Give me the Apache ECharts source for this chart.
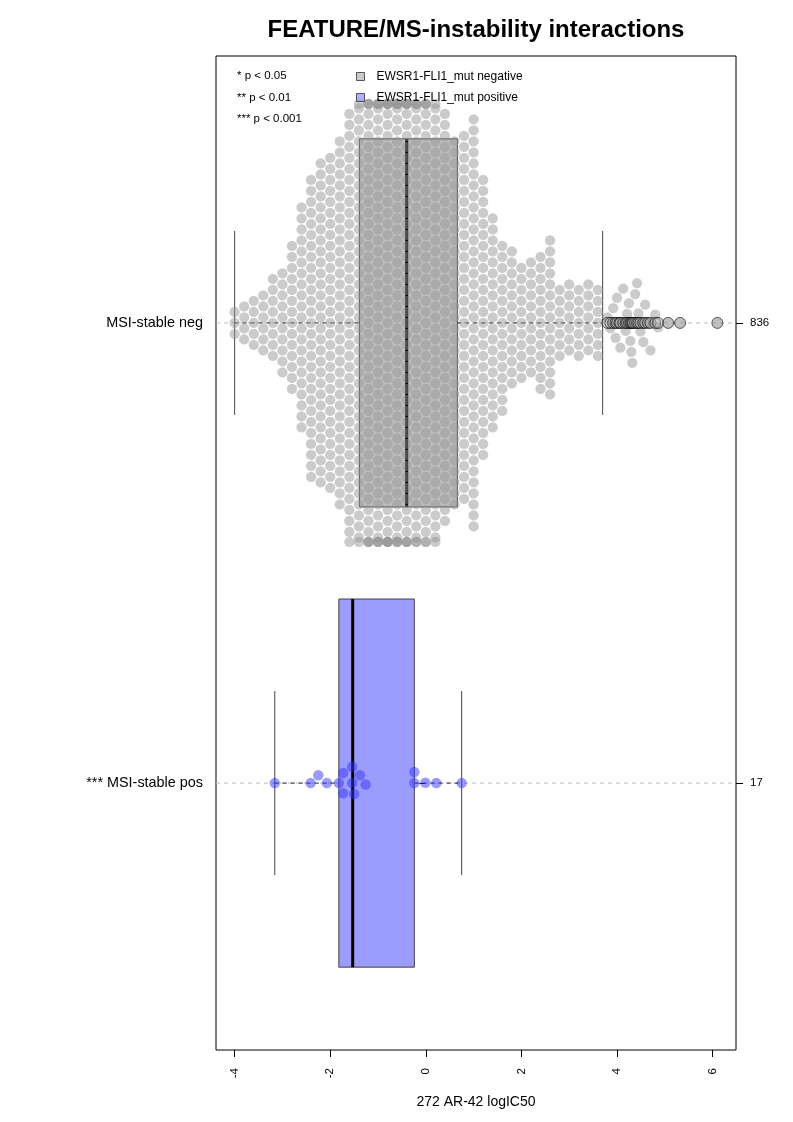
<!DOCTYPE html>
<html><head><meta charset="utf-8">
<script src="https://cdn.jsdelivr.net/npm/echarts@6/dist/echarts.min.js"></script>
<style>html,body{margin:0;padding:0;background:#fff}#c{width:793px;height:1122px}</style>
</head><body><div id="c"></div>
<script>
// ---------------- data ----------------
const groupNames = ['MSI-stable neg', '*** MSI-stable pos'];
const groupPositions = [2, 1];
const groupCounts = ['836', '17'];
const seriesNames = ['EWSR1-FLI1_mut negative', 'EWSR1-FLI1_mut positive'];
const pNotes = ['* p < 0.05', '** p < 0.01', '*** p < 0.001'];
const xTicks = [-4, -2, 0, 2, 4, 6];
const titleText = 'FEATURE/MS-instability interactions';
const xName = '272 AR-42 logIC50';

// MSI-stable neg: logIC50 values read as counts per 0.2-wide bin (bin centre)
const negBinCenters = [-4.0,-3.8,-3.6,-3.4,-3.2,-3.0,-2.8,-2.6,-2.4,-2.2,-2.0,-1.8,-1.6,-1.4,-1.2,-1.0,-0.8,-0.6,-0.4,-0.2,
  0.0,0.2,0.4,0.6,0.8,1.0,1.2,1.4,1.6,1.8,2.0,2.2,2.4,2.6,2.8,3.0,3.2,3.4,3.6];
const negBinCounts = [3,4,5,6,8,10,14,21,28,30,31,34,40,42,45,46,47,47,46,45,
  44,42,38,34,34,38,26,20,16,13,11,11,13,15,7,7,7,7,7];
// individual values beyond the upper whisker
const negHigh = [3.80,3.86,3.92,3.97,4.00,4.05,4.07,4.13,4.18,4.21,4.25,4.28,4.30,4.32,4.34,4.38,4.42,4.45,4.49,4.55,4.59,4.65,4.70,4.80,4.86,5.07,5.32,6.10];
// MSI-stable pos: 17 values
const posValues = [-3.16,-2.41,-2.25,-2.07,-1.82,-1.73,-1.73,-1.54,-1.54,-1.50,-1.38,-1.26,-0.24,-0.24,-0.01,0.22,0.75];
// box statistics: [lower whisker, Q1, median, Q3, upper whisker]
const negBox = [-4.00, -1.39, -0.40, 0.66, 3.70];
const posBox = [-3.16, -1.82, -1.53, -0.24, 0.75];

// ---------------- layout ----------------
const FONT = '"Liberation Sans", Arial, Helvetica, sans-serif';
const X_MIN = -4.39, X_MAX = 6.49, Y_MIN = 0.42, Y_MAX = 2.58;
const GRID = {left: 216, top: 56, width: 520, height: 994};
const pxPerX = GRID.width / (X_MAX - X_MIN);
const pxPerY = GRID.height / (Y_MAX - Y_MIN);
const D = 11;          // swarm spacing, px
const GUTTER = 219;    // corral gutter, px
const BOX_HALF = 0.4, STAPLE_HALF = 0.2;

const negValues = [];
negBinCenters.forEach((c, i) => { for (let k = 0; k < negBinCounts[i]; k++) negValues.push(c); });
negHigh.forEach(v => negValues.push(v));

function swarm(values) {
  const idx = values.map((v, i) => i).sort((a, b) => values[a] - values[b]);
  const placed = [], out = new Array(values.length);
  for (const i of idx) {
    const x = values[i] * pxPerX;
    const near = [];
    for (let k = placed.length - 1; k >= 0; k--) {
      const p = placed[k];
      if (x - p.x >= D) break;
      near.push(p);
    }
    const cands = [0];
    for (const p of near) {
      const dx = x - p.x, dy = Math.sqrt(Math.max(0, D * D - dx * dx));
      cands.push(p.y + dy, p.y - dy);
    }
    cands.sort((a, b) => Math.abs(a) - Math.abs(b) || b - a);
    let y = 0;
    for (const cy of cands) {
      let ok = true;
      for (const p of near) {
        const dx = x - p.x, dy = cy - p.y;
        if (dx * dx + dy * dy < D * D - 1e-6) { ok = false; break; }
      }
      if (ok) { y = cy; break; }
    }
    placed.push({x, y});
    out[i] = y;
  }
  return out;
}

function swarmData(values, pos) {
  const off = swarm(values);
  return values.map((v, i) => {
    const o = Math.max(-GUTTER, Math.min(GUTTER, off[i]));
    return [v, pos + o / pxPerY];
  });
}

const negPts = swarmData(negValues, groupPositions[0]);
const posPts = swarmData(posValues, groupPositions[1]);
const negOut = negValues.filter(v => v > negBox[4] || v < negBox[0]).map(v => [v, groupPositions[0]]);

const boxData = [
  [groupPositions[0]].concat(negBox),
  [groupPositions[1]].concat(posBox)
];
const boxFill = ['#BEBEBE', '#9C9CFF'];

function renderBox(params, api) {
  const g = api.value(0), mn = api.value(1), q1 = api.value(2), md = api.value(3), q3 = api.value(4), mx = api.value(5);
  const tl = api.coord([q1, g + BOX_HALF]), br = api.coord([q3, g - BOX_HALF]);
  const c = api.coord([mn, g]), d = api.coord([mx, g]);
  const sTop = api.coord([mn, g + STAPLE_HALF])[1], sBot = api.coord([mn, g - STAPLE_HALF])[1];
  const mt = api.coord([md, g + BOX_HALF]), mb = api.coord([md, g - BOX_HALF]);
  const dash = {stroke: '#222', lineWidth: 1, lineDash: [4, 4]};
  return {type: 'group', children: [
    {type: 'line', shape: {x1: c[0], y1: c[1], x2: tl[0], y2: c[1]}, style: dash},
    {type: 'line', shape: {x1: br[0], y1: c[1], x2: d[0], y2: c[1]}, style: dash},
    {type: 'line', shape: {x1: c[0], y1: sTop, x2: c[0], y2: sBot}, style: {stroke: '#444', lineWidth: 1}},
    {type: 'line', shape: {x1: d[0], y1: sTop, x2: d[0], y2: sBot}, style: {stroke: '#444', lineWidth: 1}},
    {type: 'rect', shape: {x: tl[0], y: tl[1], width: br[0] - tl[0], height: br[1] - tl[1]},
      style: {fill: boxFill[params.dataIndex], stroke: '#444', lineWidth: 1}},
    {type: 'line', shape: {x1: mt[0], y1: mt[1], x2: mb[0], y2: mb[1]}, style: {stroke: '#000', lineWidth: 3}}
  ]};
}

function renderGridLine(params, api) {
  const g = api.value(0);
  const a = api.coord([X_MIN, g]), b = api.coord([X_MAX, g]);
  return {type: 'line', shape: {x1: a[0], y1: a[1], x2: b[0], y2: b[1]},
    style: {stroke: '#BBBBBB', lineWidth: 1, lineDash: [4, 4]}};
}

const chart = echarts.init(document.getElementById('c'), null, {renderer: 'canvas'});
const labelByPos = v => groupNames[groupPositions.indexOf(v)];
const countByPos = v => groupCounts[groupPositions.indexOf(v)];

chart.setOption({
  animation: false,
  backgroundColor: '#fff',
  textStyle: {fontFamily: FONT},
  grid: {left: GRID.left, top: GRID.top, width: GRID.width, height: GRID.height,
    show: true, borderColor: '#000', borderWidth: 1, backgroundColor: 'transparent'},
  xAxis: {
    type: 'value', min: X_MIN, max: X_MAX,
    name: xName, nameLocation: 'middle', nameGap: 45,
    nameTextStyle: {fontSize: 14, color: '#000', fontFamily: FONT},
    axisLine: {show: false},
    splitLine: {show: false},
    axisTick: {show: true, customValues: xTicks, length: 7, lineStyle: {color: '#000'}},
    axisLabel: {customValues: xTicks, rotate: 90, margin: 18, fontSize: 11.5, color: '#000', fontFamily: FONT}
  },
  yAxis: [{
    type: 'value', min: Y_MIN, max: Y_MAX, position: 'left',
    axisLine: {show: false}, splitLine: {show: false},
    axisTick: {show: true, customValues: groupPositions, length: 7, lineStyle: {color: '#000'}},
    axisLabel: {customValues: groupPositions, formatter: v => labelByPos(v), margin: 13,
      fontSize: 14.4, color: '#000', fontFamily: FONT}
  }, {
    type: 'value', min: Y_MIN, max: Y_MAX, position: 'right',
    axisLine: {show: false}, splitLine: {show: false},
    axisTick: {show: true, customValues: groupPositions, length: 7, lineStyle: {color: '#000'}},
    axisLabel: {customValues: groupPositions, formatter: v => countByPos(v), margin: 14,
      fontSize: 11.5, color: '#000', fontFamily: FONT}
  }],
  legend: {
    orient: 'vertical', left: 356, top: 70.5, itemWidth: 8, itemHeight: 8, itemGap: 9,
    padding: 0, selectedMode: false,
    textStyle: {fontSize: 12, color: '#000', fontFamily: FONT, padding: [0, 0, 0, 7]},
    data: [
      {name: seriesNames[0], icon: 'rect', itemStyle: {color: '#BEBEBE', borderColor: '#333', borderWidth: 1}},
      {name: seriesNames[1], icon: 'rect', itemStyle: {color: '#9C9CFF', borderColor: '#333', borderWidth: 1}}
    ]
  },
  graphic: [
    {type: 'text', silent: true,
      style: {text: titleText, x: 476, y: 30, textAlign: 'center', textVerticalAlign: 'middle',
        font: 'bold 24px ' + FONT, fill: '#000'}}
  ].concat(pNotes.map((t, i) => ({type: 'text', silent: true,
     style: {text: t, x: 237, y: 76 + i * 21.5, textVerticalAlign: 'middle', font: '11.5px ' + FONT, fill: '#000'}}))),
  series: [
    {type: 'custom', name: 'gridlines', renderItem: renderGridLine, data: groupPositions.map(p => [p]),
      z: 1, silent: true, encode: {x: -1, y: 0}},
    {type: 'custom', name: 'boxes', renderItem: renderBox, data: boxData, z: 2, silent: true,
      encode: {x: [1, 2, 3, 4, 5], y: 0}},
    {type: 'scatter', name: seriesNames[0], data: negPts, symbol: 'circle', symbolSize: 10.3, z: 3,
      itemStyle: {color: 'rgba(150,150,150,0.62)'}, silent: true},
    {type: 'scatter', name: seriesNames[1], data: posPts, symbol: 'circle', symbolSize: 10.5, z: 3,
      itemStyle: {color: 'rgba(50,50,255,0.62)'}, silent: true},
    {type: 'scatter', name: 'outliers', data: negOut, symbol: 'circle', symbolSize: 11, z: 4,
      itemStyle: {color: 'rgba(170,170,170,0.45)', borderColor: '#000', borderWidth: 0.8}, silent: true}
  ]
});
</script>
</body></html>
